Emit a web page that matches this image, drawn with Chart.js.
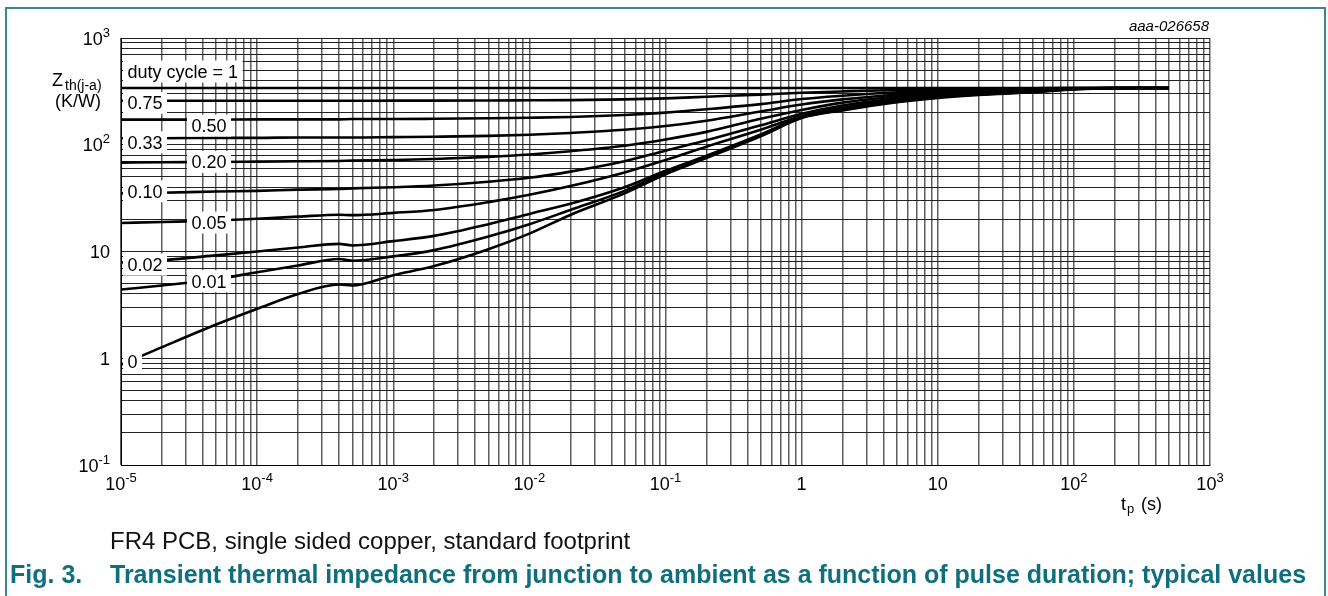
<!DOCTYPE html>
<html>
<head>
<meta charset="utf-8">
<script src="https://cdn.jsdelivr.net/npm/chart.js@4.4.1/dist/chart.umd.min.js"></script>
<style>
  html, body { margin: 0; padding: 0; background: #fff; }
  body { width: 1328px; height: 596px; position: relative; overflow: hidden;
         font-family: "Liberation Sans", Arial, sans-serif; color: #000; }
  #frame { position: absolute; left: 5px; top: 7px; width: 1321px; height: 620px;
           border: 2px solid #3a8792; border-bottom: none; box-sizing: border-box; }
  canvas { position: absolute; left: 0; top: 0; }
  .t { position: absolute; white-space: pre; line-height: 1; }
  #code { right: 119px; top: 18px; font-size: 15px; font-style: italic; }
  #note { left: 110px; top: 529px; font-size: 24px; color: #111; }
  .fig { top: 562px; font-size: 25px; font-weight: bold; color: #0f6f7d; }
</style>
</head>
<body>
<div id="frame"></div>
<canvas id="chart" width="1328" height="596"></canvas>
<div class="t" style="left:52px;top:71px;font-size:18px">Z</div>
<div class="t" style="left:65px;top:78px;font-size:14px">th(j-a)</div>
<div class="t" style="left:55px;top:92px;font-size:18px">(K/W)</div>
<div class="t" style="left:1121px;top:495px;font-size:18px">t</div>
<div class="t" style="left:1127px;top:502px;font-size:13px">p</div>
<div class="t" style="left:1141px;top:495px;font-size:18px">(s)</div>
<div class="t" id="code">aaa-026658</div>
<div class="t" id="note">FR4 PCB, single sided copper, standard footprint</div>
<div class="t fig" style="left:10px">Fig. 3.</div>
<div class="t fig" style="left:110px">Transient thermal impedance from junction to ambient as a function of pulse duration; typical values</div>

<script>
// pulse duration tp (s)
const tp = [1e-5, 2e-5, 5e-5, 1e-4, 2e-4, 4e-4, 5e-4, 1e-3, 2e-3, 5e-3, 1e-2, 2e-2, 5e-2,
            0.1, 0.2, 0.5, 1, 2, 5, 10, 20, 50, 100, 200, 500];

// Zth(j-a) in K/W per duty cycle
const zthD100 = [340, 340, 340, 340, 340, 340, 340, 340, 340, 340, 340, 340, 340,
                 340, 340, 340, 340, 340, 340, 340, 340, 340, 340, 340, 340];
const zthD075 = [258, 258, 258, 258, 258, 258, 258, 259, 259, 260, 261, 262, 266,
                 272, 282, 295, 307, 316, 326, 332, 336, 338, 340, 340, 340];
const zthD050 = [172, 172, 172, 173, 173, 173, 174, 174, 175, 177, 179, 182, 190,
                 200, 215, 240, 268, 288, 310, 322, 330, 336, 339, 340, 340];
const zthD033 = [115, 115, 116, 116, 117, 117, 117, 118, 119, 121, 124, 129, 138,
                 150, 168, 205, 238, 266, 296, 313, 325, 333, 338, 340, 340];
const zthD020 = [68, 68.5, 69, 69.5, 70, 70.5, 71, 72, 73.5, 77, 81, 87, 98,
                 112, 132, 175, 212, 248, 283, 304, 319, 330, 337, 340, 340];
const zthD010 = [35, 35.5, 36.5, 37, 38, 38.5, 39, 40, 41.5, 45, 49, 56, 70,
                 88, 110, 152, 195, 233, 272, 296, 313, 328, 336, 340, 340];
const zthD005 = [18.5, 18.9, 19.5, 20.3, 21.2, 22.1, 21.9, 23, 24.5, 29, 34, 41, 55,
                 72, 96, 138, 186, 222, 263, 288, 307, 324, 335, 340, 340];
const zthD002 = [7.9, 8.3, 9.2, 10, 10.9, 11.8, 11.4, 12.5, 14, 18, 22.5, 28, 40,
                 57, 79, 125, 182, 216, 257, 282, 300, 318, 333, 339, 340];
const zthD001 = [4.4, 4.8, 5.5, 6.4, 7.4, 8.5, 8.2, 9, 10.3, 13.8, 18, 24.5, 37,
                 55, 77, 122, 180, 213, 253, 278, 296, 314, 331, 338, 340];
const zthD000 = [0.87, 1.27, 2.07, 2.9, 4, 4.9, 4.8, 6, 7.3, 10.5, 14.7, 22, 35,
                 53, 75, 120, 178, 210, 250, 275, 293, 310, 330, 338, 340];

const curveNames = ['duty cycle = 1', '0.75', '0.50', '0.33', '0.20', '0.10', '0.05', '0.02', '0.01', '0'];
const curveValues = [zthD100, zthD075, zthD050, zthD033, zthD020, zthD010, zthD005, zthD002, zthD001, zthD000];

// axis decade labels ("^" marks the exponent)
const xDecades = [1e-5, 1e-4, 1e-3, 1e-2, 1e-1, 1, 10, 100, 1000];
const xTickText = ['10^-5', '10^-4', '10^-3', '10^-2', '10^-1', '1', '10', '10^2', '10^3'];
const yDecades = [0.1, 1, 10, 100, 1000];
const yTickText = ['10^-1', '1', '10', '10^2', '10^3'];

// where each curve label sits: column, point index used for height, small vertical nudge
const labelPlace = [
  {col: 0, idx: 0, dy: -16.5},
  {col: 0, idx: 1, dy: 2},
  {col: 1, idx: 2, dy: 6},
  {col: 0, idx: 1, dy: 4},
  {col: 1, idx: 2, dy: 0},
  {col: 0, idx: 1, dy: -1.5},
  {col: 1, idx: 2, dy: 2},
  {col: 0, idx: 1, dy: 4.5},
  {col: 1, idx: 2, dy: 2},
  {col: 0, idx: 0, dy: -3}
];

const FONT = '"Liberation Sans", Arial, sans-serif';

function logTicks(min, max) {
  const out = [];
  for (let e = Math.round(Math.log10(min)); e <= Math.round(Math.log10(max)); e++) {
    for (let k = 1; k <= 9; k++) {
      const v = Number(k + 'e' + e);
      if (v >= min && v <= max) out.push({value: v});
    }
  }
  return out;
}

function drawPow(ctx, txt, x, y, align) {
  const parts = txt.split('^');
  ctx.font = '18px ' + FONT;
  const wb = ctx.measureText(parts[0]).width;
  let we = 0;
  if (parts[1]) { ctx.font = '13px ' + FONT; we = ctx.measureText(parts[1]).width; }
  const w = wb + we;
  const x0 = align === 'right' ? x - w : align === 'center' ? x - w / 2 : x;
  ctx.textAlign = 'left';
  ctx.textBaseline = 'alphabetic';
  ctx.font = '18px ' + FONT;
  ctx.fillText(parts[0], x0, y);
  if (parts[1]) {
    ctx.font = '13px ' + FONT;
    ctx.fillText(parts[1], x0 + wb, y - 8);
  }
}

const decorPlugin = {
  id: 'decor',
  afterDatasetsDraw(chart) {
    const ctx = chart.ctx;
    const area = chart.chartArea;
    ctx.save();
    ctx.font = '18px ' + FONT;
    curveNames.forEach((name, i) => {
      const p = labelPlace[i];
      const pt = chart.getDatasetMeta(i).data[p.idx];
      const cy = pt.y + p.dy;
      const boxLeft = p.col === 0 ? area.left + 2 : area.left + 66;
      const textLeft = boxLeft + 4.5;
      const w = ctx.measureText(name).width;
      ctx.fillStyle = '#fff';
      ctx.fillRect(boxLeft, cy - 11, w + 9, 22);
      ctx.fillStyle = '#000';
      ctx.textAlign = 'left';
      ctx.textBaseline = 'alphabetic';
      ctx.fillText(name, textLeft, cy + 6.5);
    });
    ctx.restore();
  },
  afterDraw(chart) {
    const ctx = chart.ctx;
    const xs = chart.scales.x, ys = chart.scales.y;
    ctx.save();
    ctx.fillStyle = '#000';
    xDecades.forEach((v, i) => drawPow(ctx, xTickText[i], xs.getPixelForValue(v), 490, 'center'));
    yDecades.forEach((v, i) => drawPow(ctx, yTickText[i], 110, ys.getPixelForValue(v) + 6.5, 'right'));
    ctx.restore();
  }
};

new Chart(document.getElementById('chart'), {
  type: 'line',
  data: {
    datasets: curveValues.map((vals, i) => ({
      label: curveNames[i],
      data: tp.map((t, j) => ({x: t, y: vals[j]})),
      borderColor: '#000',
      borderWidth: 2.6,
      pointRadius: 0,
      fill: false,
      cubicInterpolationMode: 'monotone'
    }))
  },
  options: {
    responsive: false,
    animation: false,
    devicePixelRatio: 1,
    layout: { padding: { left: 121, top: 38, right: 118, bottom: 131 } },
    plugins: { legend: { display: false }, tooltip: { enabled: false } },
    scales: {
      x: {
        type: 'logarithmic',
        min: 1e-5,
        max: 1e3,
        afterBuildTicks: (axis) => { axis.ticks = logTicks(1e-5, 1e3); },
        ticks: { display: false },
        grid: { color: '#5e5e5e', lineWidth: 1.5, drawTicks: false },
        border: { color: '#000', width: 1 }
      },
      y: {
        type: 'logarithmic',
        min: 0.1,
        max: 1000,
        afterBuildTicks: (axis) => { axis.ticks = logTicks(0.1, 1000); },
        ticks: { display: false },
        grid: { color: '#222', lineWidth: 1, drawTicks: false },
        border: { color: '#000', width: 1 }
      }
    }
  },
  plugins: [decorPlugin]
});
</script>
</body>
</html>
